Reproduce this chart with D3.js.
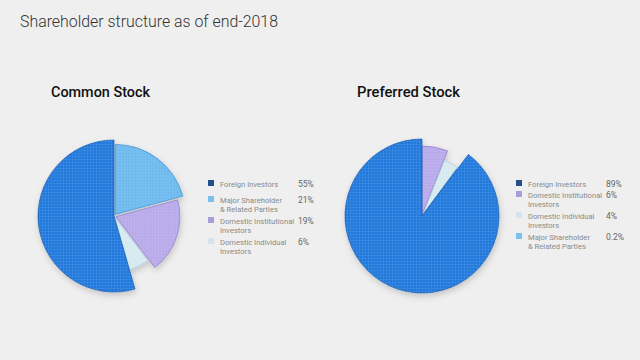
<!DOCTYPE html>
<html>
<head>
<meta charset="utf-8">
<script src="https://cdnjs.cloudflare.com/ajax/libs/d3/7.8.5/d3.min.js"></script>
<style>
  body { margin: 0; background: #efefef; }
  svg { display: block; font-family: Roboto, "Noto Sans", sans-serif; }
</style>
</head>
<body>
<script>
// legend order (foreign first); pie draws foreign last
var commonLabels = [["Foreign Investors"], ["Major Shareholder", "& Related Parties"], ["Domestic Institutional", "Investors"], ["Domestic Individual", "Investors"]]
var commonKeys = ["foreign", "major", "inst", "indiv"]
var commonValues = [55, 21, 19, 6]
var commonPct = ["55%", "21%", "19%", "6%"]

var prefLabels = [["Foreign Investors"], ["Domestic Institutional", "Investors"], ["Domestic Individual", "Investors"], ["Major Shareholder", "& Related Parties"]]
var prefKeys = ["foreign", "inst", "indiv", "major"]
var prefValues = [89, 6, 4, 0.2]
var prefPct = ["89%", "6%", "4%", "0.2%"]

var fills = { foreign: "#2279dc", major: "#6cb9ef", inst: "#b8a9ea", indiv: "#d6e9f1" }
var edges = { foreign: "#1a5fae", major: "#3f8fd0", inst: "#8a78c8", indiv: "#a9c8d6" }
var swatch = { foreign: "#24508a", major: "#7cc0ee", inst: "#a79fd8", indiv: "#d6e3ec" }

var W = 640, H = 360
var svg = d3.select("body").append("svg").attr("width", W).attr("height", H)
var defs = svg.append("defs")

var f = defs.append("filter").attr("id", "sh").attr("x", "-20%").attr("y", "-20%").attr("width", "140%").attr("height", "140%")
f.append("feDropShadow").attr("dx", 1).attr("dy", 3).attr("stdDeviation", 3).attr("flood-color", "#000").attr("flood-opacity", 0.18)

Object.keys(fills).forEach(function(k) {
  var p = defs.append("pattern").attr("id", "pt-" + k).attr("width", 3).attr("height", 3)
    .attr("patternUnits", "userSpaceOnUse")
  p.append("rect").attr("width", 3).attr("height", 3).attr("fill", fills[k])
  p.append("path").attr("d", "M0 0.5H3M0.5 0V3").attr("stroke", "#fff").attr("stroke-opacity", 0.13).attr("stroke-width", 0.6)
})

svg.append("text").attr("x", 20).attr("y", 27).attr("font-size", 16.5).attr("fill", "#333")
  .attr("font-weight", 300).attr("textLength", 258).attr("lengthAdjust", "spacingAndGlyphs")
  .text("Shareholder structure as of end-2018")

function drawChart(opt) {
  var order = opt.keys.slice(1).concat(opt.keys[0])
  var vals = opt.values.slice(1).concat(opt.values[0])
  var pie = d3.pie().sort(null).value(function(d) { return d })
  var arcs = pie(vals)
  var g = svg.append("g").attr("transform", "translate(" + opt.cx + "," + opt.cy + ")").attr("filter", "url(#sh)")
  g.selectAll("path").data(arcs).enter().append("path")
    .attr("d", function(d, i) {
      return d3.arc().innerRadius(0).outerRadius(opt.radius[order[i]])(d)
    })
    .attr("transform", function(d, i) {
      var a = (d.startAngle + d.endAngle) / 2, off = opt.offset[order[i]] || 0
      return "translate(" + (Math.sin(a) * off) + "," + (-Math.cos(a) * off) + ")"
    })
    .attr("fill", function(d, i) { return "url(#pt-" + order[i] + ")" })
    .attr("stroke", function(d, i) { return edges[order[i]] })
    .attr("stroke-width", 0.7)

  svg.append("text").attr("x", opt.tx).attr("y", 97).attr("font-size", 15).attr("font-weight", 500)
    .attr("fill", "#111").attr("textLength", opt.tw).attr("lengthAdjust", "spacingAndGlyphs").text(opt.title)

  var lg = svg.append("g")
  opt.keys.forEach(function(k, i) {
    var y = opt.rows[i]
    lg.append("rect").attr("x", opt.lx).attr("y", y - 5).attr("width", 6).attr("height", 6).attr("fill", swatch[k])
    opt.labels[i].forEach(function(line, j) {
      lg.append("text").attr("x", opt.lx + 12).attr("y", y + 2 + j * opt.lh).attr("font-size", 7.6)
        .attr("fill", "#8a8a8a").text(line)
    })
    lg.append("text").attr("x", opt.px).attr("y", y + 2).attr("font-size", 8.5).attr("fill", "#666").text(opt.pct[i])
  })
}

drawChart({
  title: "Common Stock", tx: 51, tw: 99, cx: 114, cy: 216,
  keys: commonKeys, values: commonValues, labels: commonLabels, pct: commonPct,
  radius: { foreign: 76, major: 70, inst: 64, indiv: 55 },
  offset: { major: 2, inst: 2, indiv: 1 },
  lx: 208, px: 298, rows: [185, 201, 222, 243], lh: 9
})
drawChart({
  title: "Preferred Stock", tx: 357, tw: 103, cx: 422, cy: 216,
  keys: prefKeys, values: prefValues, labels: prefLabels, pct: prefPct,
  radius: { foreign: 77, inst: 68, indiv: 58, major: 58 },
  offset: { inst: 2, indiv: 2 },
  lx: 516, px: 606, rows: [185, 196, 217, 238], lh: 9
})
</script>
</body>
</html>
